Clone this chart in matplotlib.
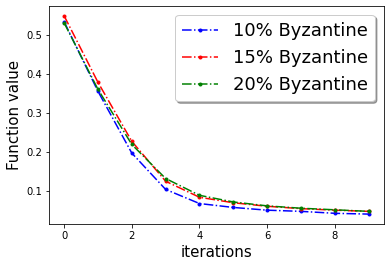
import matplotlib
matplotlib.use("Agg")
import matplotlib.pyplot as plt

iterations = list(range(10))
byz10 = [0.533, 0.355, 0.197, 0.104, 0.068, 0.058, 0.051, 0.048, 0.043, 0.041]
byz15 = [0.548, 0.378, 0.227, 0.125, 0.084, 0.070, 0.061, 0.055, 0.051, 0.048]
byz20 = [0.530, 0.360, 0.219, 0.132, 0.089, 0.072, 0.062, 0.056, 0.052, 0.048]
labels = ["10% Byzantine", "15% Byzantine", "20% Byzantine"]

fig = plt.figure(figsize=(391/72, 267/72), dpi=72)
ax = fig.add_axes([0.125, 0.161, 0.857, 0.817])
ax.plot(iterations, byz10, 'b-.', marker='.', label=labels[0])
ax.plot(iterations, byz15, 'r-.', marker='.', label=labels[1])
ax.plot(iterations, byz20, 'g-.', marker='.', label=labels[2])
ax.set_xlabel("iterations", fontsize=15)
ax.set_ylabel("Function value", fontsize=15)
ax.set_xticks([0, 2, 4, 6, 8])
ax.set_yticks([0.1, 0.2, 0.3, 0.4, 0.5])
ax.legend(fontsize=18, shadow=True, loc='upper right')
fig.savefig("out.png", dpi=72)
